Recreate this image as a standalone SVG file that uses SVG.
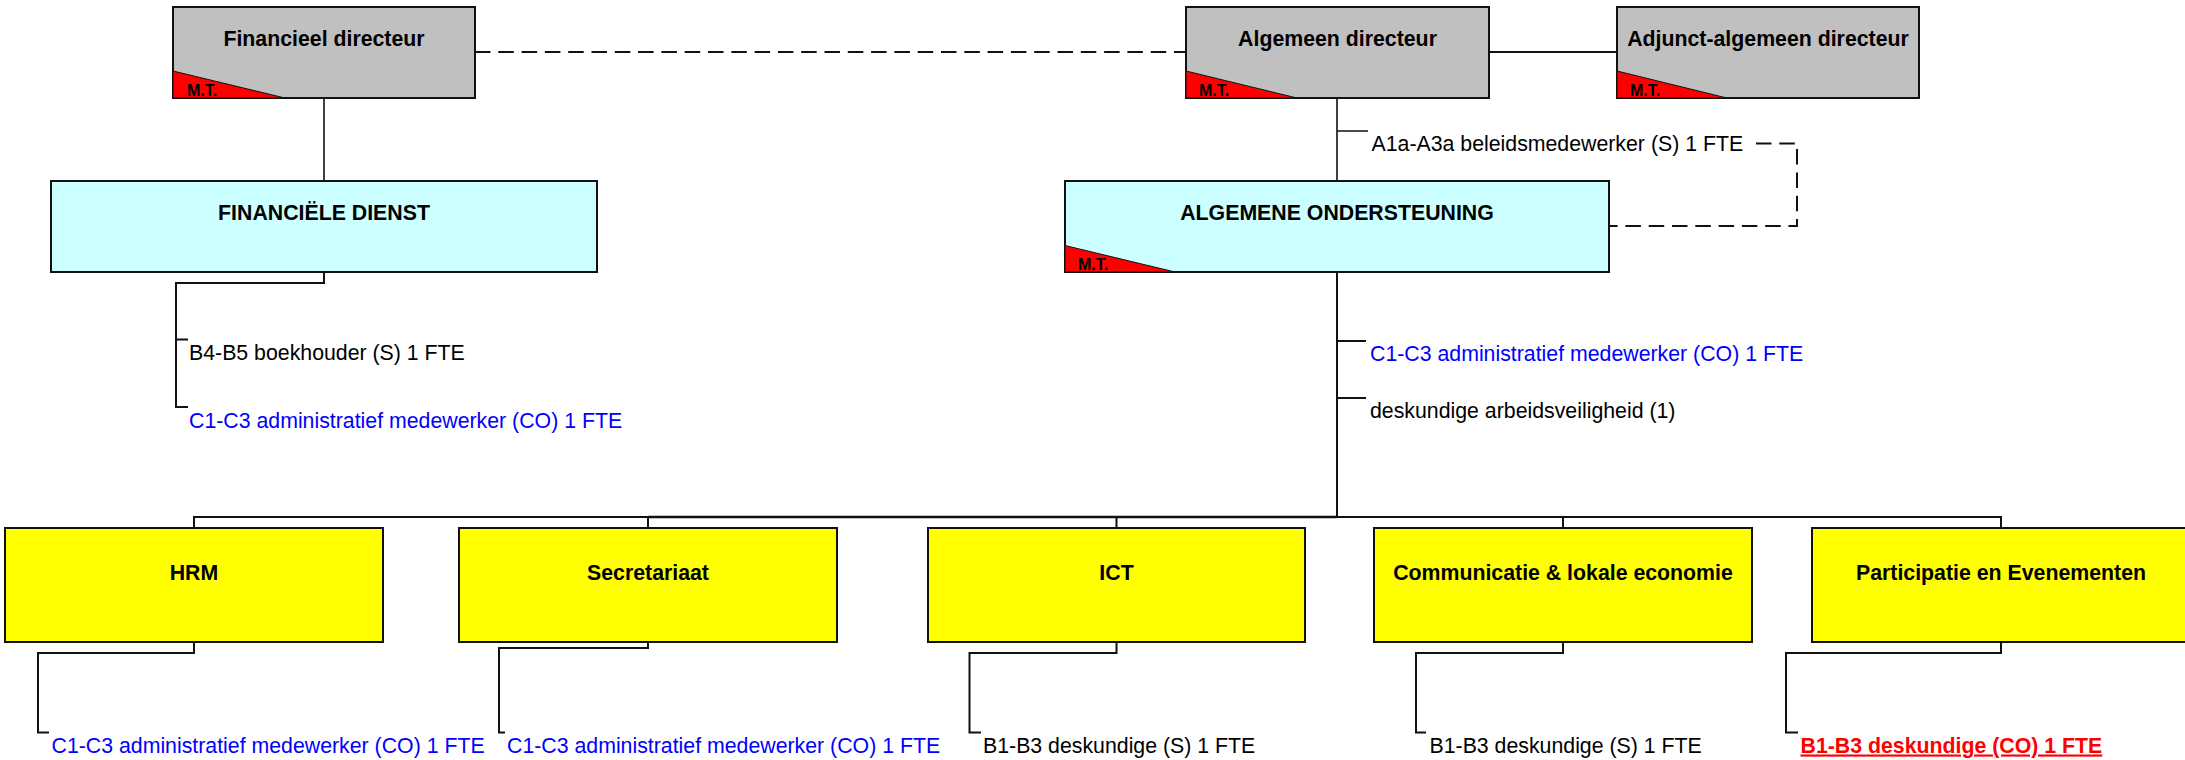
<svg xmlns="http://www.w3.org/2000/svg" width="2185" height="760" viewBox="0 0 2185 760">
<style>
.box{stroke:#111;stroke-width:2}
.gray{fill:#c0c0c0}
.cyan{fill:#ccffff}
.yel{fill:#ffff00}
.mt{fill:#ff0000;stroke:#111;stroke-width:1}
.t{font-family:"Liberation Sans",Arial,sans-serif;font-size:21.3px;fill:#000}
.b{font-weight:bold}
.c{text-anchor:middle}
.mtl{font-family:"Liberation Sans",Arial,sans-serif;font-size:16px;font-weight:bold;fill:#000}
.blue{fill:#0000ff}
.red{fill:#ff0000;font-weight:bold;text-decoration:underline}
.ln{fill:none;stroke:#111;stroke-width:2}
.dash{fill:none;stroke:#111;stroke-width:2;stroke-dasharray:15.5 7.8}
</style>
<rect width="2185" height="760" fill="#fff"/>
<g id="connectors">
<path class="dash" d="M475,52 H1186"/>
<path class="ln" d="M1489,52 H1617"/>
<path class="ln" style="stroke-width:1.6" d="M324,98 V181"/>
<path class="ln" style="stroke-width:1.6" d="M1337,98 V181 M1337,131 H1368"/>
<path class="dash" d="M1756,143.5 H1797 V226 H1609"/>
<path class="ln" d="M324,272 V283 H176 V407 H188 M176,339.5 H188"/>
<path class="ln" d="M1337,272 V517 M1337,341 H1366 M1337,398 H1366"/>
<path class="ln" d="M194,528 V517 H2001 V528 M648,517 V528 M1116.5,517 V528 M1563,517 V528"/>
<path class="ln" style="stroke-width:2.6" d="M648,517 H1337"/>
<path class="ln" d="M194,642 V653 H38 V732.5 H49"/>
<path class="ln" d="M648,642 V648 H499 V732.5 H505"/>
<path class="ln" d="M1116.5,642 V653 H969.5 V732.5 H981"/>
<path class="ln" d="M1563,642 V653 H1416 V732.5 H1426"/>
<path class="ln" d="M2001,642 V653 H1786 V732.5 H1798"/>
</g>
<g id="financieel-directeur">
<rect class="box gray" x="173" y="7" width="302" height="91"/>
<path class="mt" d="M173,71 L285,98 L173,98 Z"/>
<text class="mtl" x="187" y="96">M.T.</text>
<text class="t b c" x="324" y="46">Financieel directeur</text>
</g>
<g id="algemeen-directeur">
<rect class="box gray" x="1186" y="7" width="303" height="91"/>
<path class="mt" d="M1186,71 L1297,98 L1186,98 Z"/>
<text class="mtl" x="1199" y="96">M.T.</text>
<text class="t b c" x="1337.5" y="46">Algemeen directeur</text>
</g>
<g id="adjunct-algemeen-directeur">
<rect class="box gray" x="1617" y="7" width="302" height="91"/>
<path class="mt" d="M1617,71 L1727,98 L1617,98 Z"/>
<text class="mtl" x="1630" y="96">M.T.</text>
<text class="t b c" x="1768" y="46">Adjunct-algemeen directeur</text>
</g>
<g id="financiele-dienst">
<rect class="box cyan" x="51" y="181" width="546" height="91"/>
<text class="t b c" x="324" y="220">FINANCIËLE DIENST</text>
</g>
<g id="algemene-ondersteuning">
<rect class="box cyan" x="1065" y="181" width="544" height="91"/>
<path class="mt" d="M1065,245.5 L1175,272 L1065,272 Z"/>
<text class="mtl" x="1078" y="270">M.T.</text>
<text class="t b c" x="1337" y="220">ALGEMENE ONDERSTEUNING</text>
</g>
<g id="staff-labels">
<text class="t" x="1371.5" y="151">A1a-A3a beleidsmedewerker (S) 1 FTE</text>
<text class="t" x="189" y="360">B4-B5 boekhouder (S) 1 FTE</text>
<text class="t blue" x="189" y="428">C1-C3 administratief medewerker (CO) 1 FTE</text>
<text class="t blue" x="1370" y="361">C1-C3 administratief medewerker (CO) 1 FTE</text>
<text class="t" x="1370" y="418">deskundige arbeidsveiligheid (1)</text>
</g>
<g id="hrm">
<rect class="box yel" x="5" y="528" width="378" height="114"/>
<text class="t b c" x="194" y="580">HRM</text>
</g>
<g id="secretariaat">
<rect class="box yel" x="459" y="528" width="378" height="114"/>
<text class="t b c" x="648" y="580">Secretariaat</text>
</g>
<g id="ict">
<rect class="box yel" x="928" y="528" width="377" height="114"/>
<text class="t b c" x="1116.5" y="580">ICT</text>
</g>
<g id="communicatie">
<rect class="box yel" x="1374" y="528" width="378" height="114"/>
<text class="t b c" x="1563" y="580">Communicatie &amp; lokale economie</text>
</g>
<g id="participatie">
<rect class="box yel" x="1812" y="528" width="378" height="114"/>
<text class="t b c" x="2001" y="580">Participatie en Evenementen</text>
</g>
<g id="unit-labels">
<text class="t blue" x="51.5" y="752.5">C1-C3 administratief medewerker (CO) 1 FTE</text>
<text class="t blue" x="507" y="752.5">C1-C3 administratief medewerker (CO) 1 FTE</text>
<text class="t" x="983" y="752.5">B1-B3 deskundige (S) 1 FTE</text>
<text class="t" x="1429.5" y="752.5">B1-B3 deskundige (S) 1 FTE</text>
<text class="t red" x="1800.5" y="752.5">B1-B3 deskundige (CO) 1 FTE</text>
</g>
</svg>
